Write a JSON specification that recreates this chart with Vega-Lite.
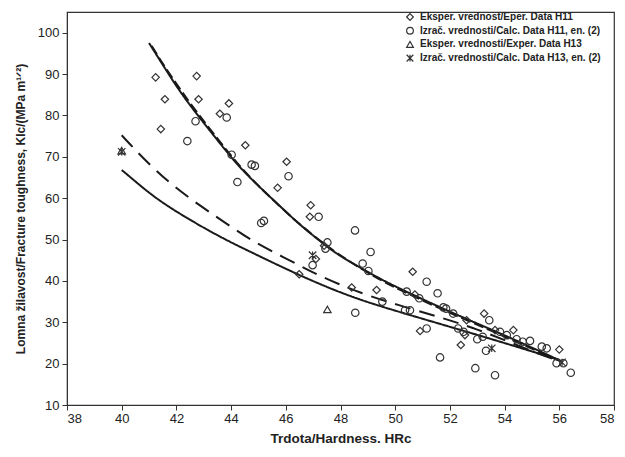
{
  "$schema": "https://vega.github.io/schema/vega-lite/v6.json",
  "width": 547,
  "height": 393,
  "autosize": "none",
  "padding": {"left": 67, "top": 12, "right": 11, "bottom": 52},
  "background": "white",
  "config": {
    "view": {"stroke": "#333", "strokeWidth": 1.2},
    "font": "Liberation Sans"
  },
  "datasets": {
    "pts": [
      {"x": 41.24, "y": 89.2, "s": "Eksper. vrednost/Eper. Data H11"},
      {"x": 42.74, "y": 89.5, "s": "Eksper. vrednost/Eper. Data H11"},
      {"x": 41.58, "y": 83.9, "s": "Eksper. vrednost/Eper. Data H11"},
      {"x": 42.81, "y": 83.9, "s": "Eksper. vrednost/Eper. Data H11"},
      {"x": 43.92, "y": 82.9, "s": "Eksper. vrednost/Eper. Data H11"},
      {"x": 43.59, "y": 80.4, "s": "Eksper. vrednost/Eper. Data H11"},
      {"x": 41.43, "y": 76.7, "s": "Eksper. vrednost/Eper. Data H11"},
      {"x": 44.52, "y": 72.8, "s": "Eksper. vrednost/Eper. Data H11"},
      {"x": 46.03, "y": 68.8, "s": "Eksper. vrednost/Eper. Data H11"},
      {"x": 45.7, "y": 62.5, "s": "Eksper. vrednost/Eper. Data H11"},
      {"x": 46.91, "y": 58.3, "s": "Eksper. vrednost/Eper. Data H11"},
      {"x": 46.88, "y": 55.5, "s": "Eksper. vrednost/Eper. Data H11"},
      {"x": 47.4, "y": 48.5, "s": "Eksper. vrednost/Eper. Data H11"},
      {"x": 47.1, "y": 45.3, "s": "Eksper. vrednost/Eper. Data H11"},
      {"x": 46.49, "y": 41.6, "s": "Eksper. vrednost/Eper. Data H11"},
      {"x": 48.41, "y": 38.4, "s": "Eksper. vrednost/Eper. Data H11"},
      {"x": 49.32, "y": 37.8, "s": "Eksper. vrednost/Eper. Data H11"},
      {"x": 50.64, "y": 42.2, "s": "Eksper. vrednost/Eper. Data H11"},
      {"x": 50.72, "y": 36.7, "s": "Eksper. vrednost/Eper. Data H11"},
      {"x": 50.91, "y": 27.9, "s": "Eksper. vrednost/Eper. Data H11"},
      {"x": 52.61, "y": 30.5, "s": "Eksper. vrednost/Eper. Data H11"},
      {"x": 53.25, "y": 32.1, "s": "Eksper. vrednost/Eper. Data H11"},
      {"x": 52.4, "y": 24.5, "s": "Eksper. vrednost/Eper. Data H11"},
      {"x": 52.55, "y": 26.9, "s": "Eksper. vrednost/Eper. Data H11"},
      {"x": 53.65, "y": 28.1, "s": "Eksper. vrednost/Eper. Data H11"},
      {"x": 54.32, "y": 28.1, "s": "Eksper. vrednost/Eper. Data H11"},
      {"x": 56.0, "y": 23.4, "s": "Eksper. vrednost/Eper. Data H11"},
      {"x": 43.84, "y": 79.5, "s": "Izrač. vrednosti/Calc. Data H11, en. (2)"},
      {"x": 42.7, "y": 78.6, "s": "Izrač. vrednosti/Calc. Data H11, en. (2)"},
      {"x": 42.4, "y": 73.8, "s": "Izrač. vrednosti/Calc. Data H11, en. (2)"},
      {"x": 44.02, "y": 70.5, "s": "Izrač. vrednosti/Calc. Data H11, en. (2)"},
      {"x": 44.75, "y": 68.1, "s": "Izrač. vrednosti/Calc. Data H11, en. (2)"},
      {"x": 44.87, "y": 67.8, "s": "Izrač. vrednosti/Calc. Data H11, en. (2)"},
      {"x": 46.1, "y": 65.3, "s": "Izrač. vrednosti/Calc. Data H11, en. (2)"},
      {"x": 44.23, "y": 63.9, "s": "Izrač. vrednosti/Calc. Data H11, en. (2)"},
      {"x": 45.1, "y": 54.0, "s": "Izrač. vrednosti/Calc. Data H11, en. (2)"},
      {"x": 45.2, "y": 54.5, "s": "Izrač. vrednosti/Calc. Data H11, en. (2)"},
      {"x": 47.2, "y": 55.5, "s": "Izrač. vrednosti/Calc. Data H11, en. (2)"},
      {"x": 48.53, "y": 52.2, "s": "Izrač. vrednosti/Calc. Data H11, en. (2)"},
      {"x": 47.52, "y": 49.3, "s": "Izrač. vrednosti/Calc. Data H11, en. (2)"},
      {"x": 47.45, "y": 47.8, "s": "Izrač. vrednosti/Calc. Data H11, en. (2)"},
      {"x": 46.98, "y": 43.8, "s": "Izrač. vrednosti/Calc. Data H11, en. (2)"},
      {"x": 49.1, "y": 47.0, "s": "Izrač. vrednosti/Calc. Data H11, en. (2)"},
      {"x": 48.81, "y": 44.2, "s": "Izrač. vrednosti/Calc. Data H11, en. (2)"},
      {"x": 49.02, "y": 42.4, "s": "Izrač. vrednosti/Calc. Data H11, en. (2)"},
      {"x": 51.15, "y": 39.8, "s": "Izrač. vrednosti/Calc. Data H11, en. (2)"},
      {"x": 51.55, "y": 37.0, "s": "Izrač. vrednosti/Calc. Data H11, en. (2)"},
      {"x": 48.54, "y": 32.3, "s": "Izrač. vrednosti/Calc. Data H11, en. (2)"},
      {"x": 49.53, "y": 35.0, "s": "Izrač. vrednosti/Calc. Data H11, en. (2)"},
      {"x": 50.42, "y": 37.4, "s": "Izrač. vrednosti/Calc. Data H11, en. (2)"},
      {"x": 50.88, "y": 35.8, "s": "Izrač. vrednosti/Calc. Data H11, en. (2)"},
      {"x": 50.36, "y": 32.9, "s": "Izrač. vrednosti/Calc. Data H11, en. (2)"},
      {"x": 50.54, "y": 32.9, "s": "Izrač. vrednosti/Calc. Data H11, en. (2)"},
      {"x": 51.76, "y": 33.6, "s": "Izrač. vrednosti/Calc. Data H11, en. (2)"},
      {"x": 51.86, "y": 33.3, "s": "Izrač. vrednosti/Calc. Data H11, en. (2)"},
      {"x": 52.12, "y": 32.1, "s": "Izrač. vrednosti/Calc. Data H11, en. (2)"},
      {"x": 51.15, "y": 28.5, "s": "Izrač. vrednosti/Calc. Data H11, en. (2)"},
      {"x": 51.64, "y": 21.5, "s": "Izrač. vrednosti/Calc. Data H11, en. (2)"},
      {"x": 53.44, "y": 30.5, "s": "Izrač. vrednosti/Calc. Data H11, en. (2)"},
      {"x": 52.3, "y": 28.5, "s": "Izrač. vrednosti/Calc. Data H11, en. (2)"},
      {"x": 52.5, "y": 27.7, "s": "Izrač. vrednosti/Calc. Data H11, en. (2)"},
      {"x": 52.93, "y": 18.9, "s": "Izrač. vrednosti/Calc. Data H11, en. (2)"},
      {"x": 53.65, "y": 17.2, "s": "Izrač. vrednosti/Calc. Data H11, en. (2)"},
      {"x": 53.32, "y": 23.1, "s": "Izrač. vrednosti/Calc. Data H11, en. (2)"},
      {"x": 53.0, "y": 25.9, "s": "Izrač. vrednosti/Calc. Data H11, en. (2)"},
      {"x": 53.2, "y": 26.5, "s": "Izrač. vrednosti/Calc. Data H11, en. (2)"},
      {"x": 53.83, "y": 27.7, "s": "Izrač. vrednosti/Calc. Data H11, en. (2)"},
      {"x": 54.08, "y": 26.9, "s": "Izrač. vrednosti/Calc. Data H11, en. (2)"},
      {"x": 54.44, "y": 25.9, "s": "Izrač. vrednosti/Calc. Data H11, en. (2)"},
      {"x": 54.66, "y": 25.3, "s": "Izrač. vrednosti/Calc. Data H11, en. (2)"},
      {"x": 54.93, "y": 25.5, "s": "Izrač. vrednosti/Calc. Data H11, en. (2)"},
      {"x": 55.36, "y": 24.1, "s": "Izrač. vrednosti/Calc. Data H11, en. (2)"},
      {"x": 55.54, "y": 23.7, "s": "Izrač. vrednosti/Calc. Data H11, en. (2)"},
      {"x": 55.9, "y": 20.1, "s": "Izrač. vrednosti/Calc. Data H11, en. (2)"},
      {"x": 56.15, "y": 20.1, "s": "Izrač. vrednosti/Calc. Data H11, en. (2)"},
      {"x": 56.42, "y": 17.8, "s": "Izrač. vrednosti/Calc. Data H11, en. (2)"},
      {"x": 40.0, "y": 71.5, "s": "Eksper. vrednosti/Exper. Data H13"},
      {"x": 47.52, "y": 33.1, "s": "Eksper. vrednosti/Exper. Data H13"},
      {"x": 40.0, "y": 71.2, "s": "Izrač. vrednosti/Calc. Data H13, en. (2)"},
      {"x": 46.98, "y": 46.2, "s": "Izrač. vrednosti/Calc. Data H13, en. (2)"},
      {"x": 53.53, "y": 23.7, "s": "Izrač. vrednosti/Calc. Data H13, en. (2)"},
      {"x": 56.1, "y": 20.3, "s": "Izrač. vrednosti/Calc. Data H13, en. (2)"}
    ],
    "curves": [
      {"x": 41.0, "y": 97.5, "c": "A"}, {"x": 41.4, "y": 93.3, "c": "A"}, {"x": 42.0, "y": 87.0, "c": "A"},
      {"x": 42.6, "y": 81.5, "c": "A"}, {"x": 43.6, "y": 73.2, "c": "A"}, {"x": 44.4, "y": 66.6, "c": "A"},
      {"x": 45.8, "y": 58.0, "c": "A"}, {"x": 46.5, "y": 53.6, "c": "A"}, {"x": 47.5, "y": 48.3, "c": "A"},
      {"x": 48.0, "y": 45.9, "c": "A"}, {"x": 49.4, "y": 40.6, "c": "A"}, {"x": 50.4, "y": 37.4, "c": "A"},
      {"x": 52.0, "y": 32.5, "c": "A"}, {"x": 53.5, "y": 28.3, "c": "A"}, {"x": 55.0, "y": 23.9, "c": "A"},
      {"x": 56.1, "y": 20.5, "c": "A"},
      {"x": 41.1, "y": 96.8, "c": "B"}, {"x": 41.5, "y": 92.4, "c": "B"}, {"x": 42.6, "y": 81.9, "c": "B"},
      {"x": 43.6, "y": 73.6, "c": "B"}, {"x": 44.4, "y": 66.9, "c": "B"}, {"x": 45.8, "y": 57.7, "c": "B"},
      {"x": 47.5, "y": 48.0, "c": "B"}, {"x": 49.4, "y": 40.3, "c": "B"}, {"x": 50.4, "y": 37.1, "c": "B"},
      {"x": 52.0, "y": 32.2, "c": "B"}, {"x": 53.5, "y": 28.0, "c": "B"}, {"x": 55.0, "y": 23.6, "c": "B"},
      {"x": 56.1, "y": 20.4, "c": "B"},
      {"x": 40.0, "y": 66.8, "c": "C"}, {"x": 40.4, "y": 64.6, "c": "C"}, {"x": 41.3, "y": 59.6, "c": "C"},
      {"x": 42.6, "y": 54.3, "c": "C"}, {"x": 43.8, "y": 49.9, "c": "C"}, {"x": 45.0, "y": 46.1, "c": "C"},
      {"x": 46.5, "y": 41.3, "c": "C"}, {"x": 48.4, "y": 36.0, "c": "C"}, {"x": 50.2, "y": 32.4, "c": "C"},
      {"x": 52.0, "y": 28.9, "c": "C"}, {"x": 54.0, "y": 25.0, "c": "C"}, {"x": 56.0, "y": 20.9, "c": "C"},
      {"x": 40.0, "y": 75.2, "c": "D"}, {"x": 40.8, "y": 69.5, "c": "D"}, {"x": 41.8, "y": 63.3, "c": "D"},
      {"x": 42.9, "y": 58.0, "c": "D"}, {"x": 44.0, "y": 53.1, "c": "D"}, {"x": 44.8, "y": 49.5, "c": "D"},
      {"x": 45.9, "y": 45.8, "c": "D"}, {"x": 46.9, "y": 42.3, "c": "D"}, {"x": 47.9, "y": 39.3, "c": "D"},
      {"x": 49.0, "y": 36.4, "c": "D"}, {"x": 50.6, "y": 33.2, "c": "D"}, {"x": 52.0, "y": 30.5, "c": "D"},
      {"x": 53.0, "y": 28.3, "c": "D"}, {"x": 54.0, "y": 25.7, "c": "D"}, {"x": 55.0, "y": 23.0, "c": "D"},
      {"x": 56.0, "y": 20.6, "c": "D"}
    ]
  },
  "layer": [
    {
      "data": {"name": "curves"},
      "mark": {"type": "line", "interpolate": "basis", "color": "#1a1a1a", "strokeWidth": 2},
      "encoding": {
        "x": {
          "field": "x", "type": "quantitative",
          "scale": {"domain": [38, 58], "nice": false, "zero": false},
          "axis": {
            "values": [38,39,40,41,42,43,44,45,46,47,48,49,50,51,52,53,54,55,56,57,58],
            "labelExpr": "datum.value % 2 === 0 ? datum.label : ''",
            "tickSize": {"condition": {"test": "datum.value % 2 === 0", "value": 5}, "value": 3},
            "grid": false,
            "domainColor": "#333", "tickColor": "#333",
            "labelFontSize": 13, "labelColor": "#222", "labelPadding": 2,
            "title": "Trdota/Hardness. HRc",
            "titleFontSize": 13.5, "titleFontWeight": "bold", "titleColor": "#222", "titlePadding": 6
          }
        },
        "y": {
          "field": "y", "type": "quantitative",
          "scale": {"domain": [10, 105], "nice": false, "zero": false},
          "axis": {
            "values": [10,20,30,40,50,60,70,80,90,100],
            "grid": false,
            "domainColor": "#333", "tickColor": "#333", "tickSize": 5,
            "labelFontSize": 13, "labelColor": "#222", "labelPadding": 3,
            "title": "Lomna žilavost/Fracture toughness, KIc/(MPa m¹ᐟ²)",
            "titleFontSize": 12, "titleFontWeight": "bold", "titleColor": "#222", "titlePadding": 10
          }
        },
        "detail": {"field": "c"},
        "strokeDash": {
          "field": "c", "type": "nominal",
          "scale": {"domain": ["A", "B", "C", "D"], "range": [[1, 0], [10, 4], [1, 0], [16, 9]]},
          "legend": null
        }
      }
    },
    {
      "data": {"name": "pts"},
      "mark": {"type": "point", "filled": false, "stroke": "#333", "strokeWidth": 1.2, "size": 55, "opacity": 1},
      "encoding": {
        "x": {"field": "x", "type": "quantitative"},
        "y": {"field": "y", "type": "quantitative"},
        "shape": {
          "field": "s", "type": "nominal",
          "scale": {
            "domain": ["Eksper. vrednost/Eper. Data H11", "Izrač. vrednosti/Calc. Data H11, en. (2)", "Eksper. vrednosti/Exper. Data H13", "Izrač. vrednosti/Calc. Data H13, en. (2)"],
            "range": ["diamond", "circle", "triangle-up", "M-1,-1L1,1M-1,1L1,-1M0,-1L0,1"]
          },
          "legend": {
            "title": null,
            "orient": "none",
            "legendX": 338,
            "legendY": 0,
            "padding": 0,
            "labelFontSize": 10,
            "labelFontWeight": "bold",
            "labelColor": "#222",
            "labelOffset": 5,
            "labelLimit": 300,
            "rowPadding": 1.7,
            "symbolSize": 45,
            "symbolStrokeColor": "#333",
            "symbolStrokeWidth": 1.2,
            "symbolFillColor": "transparent"
          }
        }
      }
    }
  ]
}
